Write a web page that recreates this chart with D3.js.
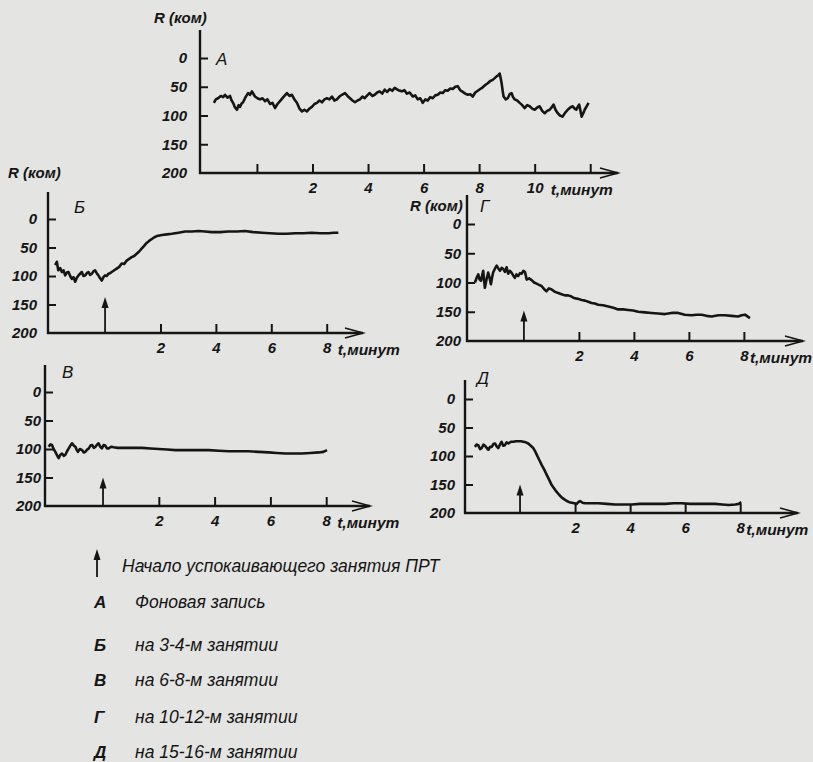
<!DOCTYPE html>
<html><head><meta charset="utf-8">
<script src="https://cdn.jsdelivr.net/npm/d3@7"></script>
<style>
body{margin:0;background:#e4e4e2}
svg{display:block}
text{font-family:"Liberation Sans",Arial,sans-serif;font-style:italic;fill:#151515}
</style></head>
<body><svg id="c" width="813" height="762"></svg>
<script>
// ---------- data (t in minutes, R in kOhm) ----------
const yTickValues = [0, 50, 100, 150, 200];
const xTicksA = [0, 2, 4, 6, 8, 10, 12];
const xLabelsA = [2, 4, 6, 8, 10];
const xTicksOther = [2, 4, 6, 8];
const xLabelsOther = [2, 4, 6, 8];
const panelLetters = ["А", "Б", "В", "Г", "Д"];
const unitLabel = "t,минут";
const rLabel = "R (ком)";
const arrowTips = {"Б": 137, "В": 150, "Г": 148, "Д": 150};

const seriesA = [[-1.55,78],[-1.48,72],[-1.40,70],[-1.30,66],[-1.22,68],[-1.15,64],[-1.06,69],[-0.97,66],[-0.92,73],[-0.86,78],[-0.79,86],[-0.72,90],[-0.66,82],[-0.61,85],[-0.55,79],[-0.50,77],[-0.41,68],[-0.32,61],[-0.25,64],[-0.18,58],[-0.12,63],[-0.07,67],[0.02,70],[0.11,72],[0.20,70],[0.29,75],[0.38,72],[0.47,80],[0.56,78],[0.65,87],[0.74,80],[0.83,75],[0.95,68],[1.08,61],[1.17,66],[1.26,64],[1.35,72],[1.44,78],[1.53,88],[1.62,93],[1.71,90],[1.80,93],[1.89,88],[1.98,85],[2.07,80],[2.16,78],[2.25,74],[2.34,77],[2.43,72],[2.52,70],[2.61,72],[2.70,67],[2.79,74],[2.88,72],[2.97,67],[3.06,64],[3.17,61],[3.26,66],[3.35,70],[3.44,74],[3.53,77],[3.62,74],[3.71,72],[3.80,67],[3.88,70],[3.97,65],[4.06,61],[4.15,66],[4.24,64],[4.33,60],[4.42,58],[4.51,62],[4.60,55],[4.69,59],[4.78,54],[4.87,57],[4.96,52],[5.09,56],[5.22,58],[5.31,56],[5.40,62],[5.50,60],[5.61,67],[5.70,65],[5.79,72],[5.88,70],[5.97,78],[6.06,72],[6.15,74],[6.24,68],[6.33,70],[6.42,65],[6.51,64],[6.60,60],[6.69,61],[6.78,56],[6.87,57],[6.96,53],[7.05,54],[7.14,50],[7.23,49],[7.32,56],[7.41,59],[7.50,62],[7.59,64],[7.68,63],[7.77,67],[7.86,60],[7.95,57],[8.04,54],[8.13,51],[8.22,47],[8.31,44],[8.40,40],[8.49,38],[8.56,35],[8.63,32],[8.69,30],[8.74,27],[8.78,36],[8.81,44],[8.85,58],[8.88,67],[8.96,72],[9.03,70],[9.10,63],[9.17,61],[9.22,68],[9.28,72],[9.37,74],[9.46,78],[9.55,82],[9.64,87],[9.73,82],[9.82,84],[9.91,88],[10.0,90],[10.09,86],[10.18,84],[10.27,92],[10.36,96],[10.45,92],[10.54,90],[10.61,86],[10.68,81],[10.75,90],[10.83,96],[10.91,100],[11.0,102],[11.10,95],[11.19,90],[11.28,86],[11.37,84],[11.44,88],[11.5,90],[11.55,85],[11.6,81],[11.65,92],[11.69,102],[11.75,96],[11.8,90],[11.87,84],[11.94,78]];

const seriesB = [[-1.80,81],[-1.74,75],[-1.69,90],[-1.62,86],[-1.56,93],[-1.50,90],[-1.44,99],[-1.38,94],[-1.32,93],[-1.26,100],[-1.20,105],[-1.14,102],[-1.08,110],[-1.02,103],[-0.96,99],[-0.90,96],[-0.84,93],[-0.78,100],[-0.72,99],[-0.66,95],[-0.60,93],[-0.54,98],[-0.48,96],[-0.42,92],[-0.36,90],[-0.30,95],[-0.24,99],[-0.18,104],[-0.12,108],[-0.06,102],[0,99],[0.06,100],[0.12,96],[0.18,95],[0.24,93],[0.33,90],[0.42,87],[0.51,84],[0.60,78],[0.69,79],[0.78,73],[0.87,70],[0.96,67],[1.05,65],[1.14,61],[1.23,57],[1.32,52],[1.41,47],[1.50,42],[1.60,38],[1.69,35],[1.78,32],[1.87,30],[1.96,29],[2.05,28],[2.23,27],[2.41,26],[2.65,24],[2.89,22],[3.13,22],[3.37,21],[3.61,22],[3.85,23],[4.15,23],[4.45,22],[4.75,22],[5.05,21],[5.35,23],[5.66,24],[5.96,25],[6.26,26],[6.56,26],[6.86,25],[7.16,25],[7.46,24],[7.76,25],[8.06,25],[8.25,24],[8.42,24]];

const seriesV = [[-1.95,96],[-1.89,92],[-1.83,93],[-1.77,100],[-1.71,105],[-1.65,111],[-1.59,116],[-1.53,110],[-1.47,108],[-1.41,112],[-1.35,110],[-1.29,104],[-1.23,99],[-1.17,94],[-1.11,90],[-1.05,94],[-0.99,96],[-0.95,101],[-0.90,105],[-0.83,100],[-0.75,102],[-0.69,106],[-0.63,105],[-0.57,101],[-0.51,99],[-0.45,94],[-0.39,93],[-0.33,98],[-0.27,96],[-0.21,92],[-0.16,90],[-0.10,96],[-0.04,99],[0.02,93],[0.08,94],[0.14,99],[0.20,99],[0.29,96],[0.38,97],[0.53,98],[0.68,98],[1.04,98],[1.40,98],[1.70,99],[2.00,100],[2.30,101],[2.59,102],[2.89,102],[3.19,102],[3.49,102],[3.79,102],[4.15,103],[4.50,104],[4.86,104],[5.22,104],[5.58,105],[5.94,106],[6.23,107],[6.53,108],[6.83,108],[7.13,108],[7.43,107],[7.73,106],[7.90,105],[8.03,102]];

const seriesG = [[-1.78,100],[-1.72,92],[-1.66,86],[-1.61,95],[-1.56,97],[-1.52,88],[-1.48,80],[-1.45,95],[-1.42,109],[-1.36,95],[-1.30,83],[-1.25,92],[-1.20,103],[-1.16,92],[-1.12,83],[-1.05,76],[-0.99,71],[-0.93,76],[-0.87,80],[-0.81,75],[-0.75,77],[-0.69,82],[-0.63,74],[-0.57,85],[-0.51,80],[-0.45,83],[-0.39,88],[-0.33,92],[-0.27,86],[-0.21,89],[-0.14,84],[-0.08,85],[-0.02,80],[0.04,82],[0.10,95],[0.19,93],[0.28,96],[0.37,100],[0.46,102],[0.55,104],[0.64,106],[0.73,111],[0.82,115],[0.91,110],[1.01,112],[1.13,116],[1.25,118],[1.37,120],[1.49,122],[1.61,122],[1.73,124],[1.85,127],[1.98,128],[2.10,130],[2.22,131],[2.34,133],[2.46,135],[2.58,136],[2.70,138],[2.88,139],[3.07,141],[3.25,143],[3.43,146],[3.61,146],[3.79,147],[3.97,148],[4.16,150],[4.40,151],[4.64,152],[4.88,153],[5.13,154],[5.37,152],[5.61,152],[5.85,155],[6.10,156],[6.28,155],[6.46,155],[6.64,157],[6.83,158],[7.07,156],[7.31,156],[7.55,157],[7.79,158],[7.92,156],[8.04,155],[8.13,158],[8.22,161]];

const seriesD = [[-1.64,84],[-1.58,80],[-1.52,81],[-1.45,88],[-1.39,86],[-1.33,80],[-1.27,82],[-1.21,86],[-1.15,89],[-1.09,84],[-1.03,84],[-0.97,79],[-0.91,78],[-0.85,83],[-0.79,86],[-0.73,80],[-0.67,75],[-0.61,82],[-0.55,81],[-0.49,76],[-0.42,78],[-0.33,75],[-0.24,75],[-0.15,74],[-0.06,74],[0.03,74],[0.12,75],[0.21,76],[0.30,78],[0.39,82],[0.48,86],[0.55,92],[0.61,98],[0.70,107],[0.79,116],[0.88,124],[0.97,133],[1.06,142],[1.15,151],[1.24,157],[1.33,163],[1.42,168],[1.52,173],[1.61,176],[1.70,179],[1.79,181],[1.88,182],[1.97,183],[2.06,184],[2.12,181],[2.18,179],[2.27,182],[2.36,183],[2.60,183],[2.85,183],[3.15,184],[3.45,185],[3.75,185],[4.06,185],[4.36,184],[4.67,184],[4.97,184],[5.27,184],[5.58,183],[5.88,183],[6.18,184],[6.48,184],[6.79,184],[7.09,184],[7.34,185],[7.58,186],[7.82,185],[7.95,184],[8.04,181]];

const legendArrowText = "Начало успокаивающего занятия ПРТ";
const legendLetters = ["А", "Б", "В", "Г", "Д"];
const legendTexts = ["Фоновая запись", "на 3-4-м занятии", "на 6-8-м занятии", "на 10-12-м занятии", "на 15-16-м занятии"];

// ---------- layout ----------
const INK = "#151515";
const FONT = '"Liberation Sans",Arial,sans-serif';
const panels = [
  {letter:"А", data:seriesA, left:200, bottom:173, zero:58, top:30, right:618, tMin:-2.05, tMax:13.0,
   ticks:xTicksA, labels:xLabelsA, gap:13, rPos:[154,23], letterPos:[216,65], unitDx:16},
  {letter:"Б", data:seriesB, left:48, bottom:333, zero:219, top:192, right:363, tMin:-2.06, tMax:9.31,
   ticks:xTicksOther, labels:xLabelsOther, gap:11, rPos:[8,178], letterPos:[74,213], unitDx:11},
  {letter:"В", data:seriesV, left:45, bottom:506, zero:392, top:365, right:370, tMin:-2.08, tMax:9.57,
   ticks:xTicksOther, labels:xLabelsOther, gap:4, rPos:null, letterPos:[62,378], unitDx:11},
  {letter:"Г", data:seriesG, left:467, bottom:341, zero:224, top:195, right:803, tMin:-2.07, tMax:10.15,
   ticks:xTicksOther, labels:xLabelsOther, gap:6, rPos:[410,211], letterPos:[480,212], unitDx:6},
  {letter:"Д", data:seriesD, left:465, bottom:513, zero:399, top:380, right:798, tMin:-2.0, tMax:10.1,
   ticks:xTicksOther, labels:xLabelsOther, gap:10, rPos:null, letterPos:[477,384], unitDx:6}
];

const svg = d3.select("#c");
svg.append("rect").attr("width",813).attr("height",762).attr("fill","#e4e4e2");

panels.forEach(p => {
  const W = p.right - p.left;
  const x = d3.scaleLinear().domain([p.tMin, p.tMax]).range([0, W]);
  const y = d3.scaleLinear().domain([0, 200]).range([p.zero - p.bottom, 0]);
  const g = svg.append("g").attr("transform", `translate(${p.left},${p.bottom})`);

  // y axis (ticks inward, labels left)
  const ya = g.append("g").call(d3.axisLeft(y).tickValues(yTickValues).tickSize(-8).tickPadding(p.gap).tickFormat(d3.format("d")));
  ya.select(".domain").remove();
  ya.selectAll("line").attr("stroke", INK).attr("stroke-width", 2);
  ya.selectAll(".tick").filter(d => d === 200).select("line").remove();
  ya.selectAll("text").attr("fill", INK).style("font-size","15px").style("font-weight","bold").style("font-family",FONT).style("font-style","italic");
  g.append("line").attr("x1",0).attr("x2",0).attr("y1",p.top - p.bottom).attr("y2",1)
    .attr("stroke",INK).attr("stroke-width",2.4);

  // x axis (ticks inward, labels below)
  const xa = g.append("g").call(d3.axisBottom(x).tickValues(p.ticks).tickSize(-9).tickPadding(9)
      .tickFormat(d => p.labels.includes(d) ? String(d) : ""));
  xa.select(".domain").remove();
  xa.selectAll("line").attr("stroke", INK).attr("stroke-width", 2);
  xa.selectAll("text").attr("fill", INK).style("font-size","15px").style("font-weight","bold").style("font-family",FONT).style("font-style","italic");
  g.append("line").attr("x1",-1).attr("x2",W).attr("y1",0).attr("y2",0).attr("stroke",INK).attr("stroke-width",2.4);
  g.append("path").attr("d",`M${W-18},-5 L${W},0 L${W-18},5`).attr("fill","none").attr("stroke",INK).attr("stroke-width",1.6);

  // unit label
  const lastLabel = p.labels[p.labels.length-1];
  g.append("text").attr("x", x(lastLabel) + p.unitDx).attr("y", 22)
    .style("font-size","15.5px").style("font-weight","bold").text(unitLabel);

  // R label, panel letter
  if (p.rPos) svg.append("text").attr("x",p.rPos[0]).attr("y",p.rPos[1])
    .style("font-size","15px").style("font-weight","bold").text(rLabel);
  svg.append("text").attr("x",p.letterPos[0]).attr("y",p.letterPos[1])
    .style("font-size","17px").text(p.letter);

  // start-of-session arrow at t = 0
  if (arrowTips[p.letter] !== undefined) {
    const ax = x(0), ay = y(arrowTips[p.letter]);
    g.append("line").attr("x1",ax).attr("x2",ax).attr("y1",0).attr("y2",ay+6).attr("stroke",INK).attr("stroke-width",1.8);
    g.append("path").attr("d",`M${ax-3.5},${ay+11} L${ax},${ay} L${ax+3.5},${ay+11} Z`).attr("fill",INK);
  }

  // trace
  const line = d3.line().x(d => x(d[0])).y(d => y(d[1]));
  g.append("path").datum(p.data).attr("d", line).attr("fill","none")
    .attr("stroke",INK).attr("stroke-width",2.6).attr("stroke-linejoin","round");
});

// ---------- legend ----------
const lg = svg.append("g");
lg.append("line").attr("x1",97).attr("x2",97).attr("y1",577).attr("y2",556).attr("stroke",INK).attr("stroke-width",1.8);
lg.append("path").attr("d","M93.5,560 L97,549 L100.5,560 Z").attr("fill",INK);
lg.append("text").attr("x",122).attr("y",572).style("font-size","17.5px").text(legendArrowText);
const rowY = [608, 651, 686, 723, 758];
legendLetters.forEach((l, i) => {
  lg.append("text").attr("x",94).attr("y",rowY[i]).style("font-size","17px").style("font-weight","bold").text(l);
  lg.append("text").attr("x",135).attr("y",rowY[i]).style("font-size","17.5px").text(legendTexts[i]);
});
</script></body></html>
